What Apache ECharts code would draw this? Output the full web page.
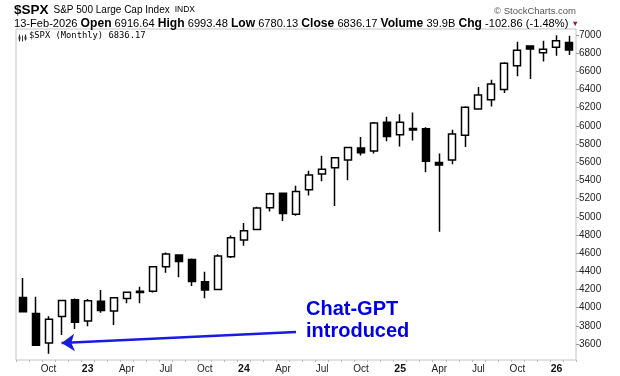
<!DOCTYPE html>
<html>
<head>
<meta charset="utf-8">
<script src="https://cdn.jsdelivr.net/npm/echarts@6/dist/echarts.min.js"></script>
<style>
  html, body { margin: 0; padding: 0; background: #fff; }
  #chart { width: 620px; height: 376px; }
</style>
</head>
<body>
<div id="chart"></div>
<script>
// monthly bars, Aug 2022 .. Feb 2026
var months = ['2022-08', '2022-09', '2022-10', '2022-11', '2022-12',
    '2023-01', '2023-02', '2023-03', '2023-04', '2023-05', '2023-06', '2023-07', '2023-08', '2023-09', '2023-10', '2023-11', '2023-12',
    '2024-01', '2024-02', '2024-03', '2024-04', '2024-05', '2024-06', '2024-07', '2024-08', '2024-09', '2024-10', '2024-11', '2024-12',
    '2025-01', '2025-02', '2025-03', '2025-04', '2025-05', '2025-06', '2025-07', '2025-08', '2025-09', '2025-10', '2025-11', '2025-12',
    '2026-01', '2026-02'];
var opens = [4112, 3937, 3610, 3902, 4087,
    3853, 4070, 3963, 4102, 4167, 4181, 4450, 4579, 4531, 4285, 4201, 4559,
    4745, 4861, 5099, 5258, 5029, 5297, 5471, 5538, 5624, 5758, 5723, 6040,
    5903, 5970, 5968, 5598, 5625, 5897, 6187, 6287, 6401, 6662, 6878, 6806,
    6866, 6917];
var closes = [3955, 3586, 3872, 4080, 3840,
    4077, 3970, 4109, 4169, 4180, 4450, 4589, 4508, 4288, 4194, 4568, 4770,
    4846, 5096, 5254, 5036, 5278, 5460, 5522, 5648, 5762, 5705, 6032, 5882,
    6041, 5955, 5612, 5569, 5912, 6205, 6339, 6460, 6688, 6832, 6845, 6842,
    6936, 6836];
var lows = [3954, 3584, 3492, 3698, 3764,
    3794, 3943, 3809, 4049, 4048, 4166, 4385, 4335, 4239, 4104, 4198, 4547,
    4682, 4854, 5057, 4954, 5011, 5234, 5391, 5119, 5403, 5674, 5697, 5832,
    5773, 5838, 5489, 4835, 5579, 5767, 6178, 6213, 6361, 6545, 6515, 6708,
    6772, 6780];
var highs = [4325, 4119, 3905, 4080, 4101,
    4094, 4195, 4111, 4170, 4231, 4458, 4607, 4585, 4541, 4394, 4588, 4793,
    4931, 5111, 5265, 5264, 5342, 5506, 5670, 5652, 5767, 5878, 6044, 6100,
    6128, 6147, 5986, 5695, 5958, 6215, 6427, 6508, 6700, 6925, 6878, 6938,
    6998, 6993];
var yTicks = [3600, 3800, 4000, 4200, 4400, 4600, 4800, 5000, 5200, 5400, 5600, 5800, 6000, 6200, 6400, 6600, 6800, 7000];
var monthNames = {'04': 'Apr', '07': 'Jul', '10': 'Oct'};

var ohlc = months.map(function (m, i) {
    return [opens[i], closes[i], lows[i], highs[i]];
});

var myChart = echarts.init(document.getElementById('chart'));
var option = {
    animation: false,
    backgroundColor: '#fff',
    textStyle: { fontFamily: 'Liberation Sans, Arial, sans-serif' },
    title: [
        {
            left: 14, top: 1, padding: 0,
            text: '{a|$SPX} {b|S&P 500 Large Cap Index} {c|INDX}',
            textStyle: {
                fontWeight: 'normal',
                rich: {
                    a: { fontSize: 13.5, fontWeight: 'bold', color: '#000' },
                    b: { fontSize: 10, fontWeight: 'normal', color: '#000' },
                    c: { fontSize: 8.5, fontWeight: 'normal', color: '#000' }
                }
            }
        },
        {
            right: 44, top: 6, padding: 0,
            text: '\u00a9 StockCharts.com',
            textStyle: { fontSize: 9.5, fontWeight: 'normal', color: '#555' }
        },
        {
            left: 14, top: 18, padding: 0,
            text: '13-Feb-2026 {k|Open} 6916.64 {k|High} 6993.48 {k|Low} 6780.13 {k|Close} 6836.17 {k|Volume} 39.9B {k|Chg} -102.86 (-1.48%) {r|\u25bc}',
            textStyle: {
                fontSize: 11.1, fontWeight: 'normal', color: '#000',
                rich: {
                    k: { fontSize: 12.1, fontWeight: 'bold', color: '#000' },
                    r: { fontSize: 7.5, color: '#a01040' }
                }
            }
        },
        {
            left: 29, top: 31, padding: 0,
            text: '$SPX (Monthly) 6836.17',
            textStyle: { fontFamily: 'DejaVu Sans Mono', fontSize: 8.8, fontWeight: 'normal', color: '#000' }
        }
    ],
    grid: {
        left: 16, right: 44, top: 29, bottom: 16,
        outerBoundsMode: 'none',
        show: true,
        borderColor: '#c4c4c4',
        borderWidth: 1
    },
    xAxis: {
        type: 'category',
        data: months,
        boundaryGap: true,
        axisLine: { show: false },
        axisTick: { show: true, interval: 0, length: 2, lineStyle: { color: '#bbb' } },
        axisLabel: {
            margin: 4,
            fontSize: 10,
            color: '#222',
            interval: function (i, v) {
                return ['01', '04', '07', '10'].indexOf(v.slice(5)) >= 0;
            },
            formatter: function (v) {
                var mm = v.slice(5);
                if (mm === '01') return '{y|' + v.slice(2, 4) + '}';
                return monthNames[mm];
            },
            rich: { y: { fontSize: 10.5, fontWeight: 'bold', color: '#111' } }
        },
        splitLine: { show: false }
    },
    yAxis: {
        type: 'value',
        position: 'right',
        min: 3424,
        max: 7066,
        axisLine: { show: false },
        axisTick: { show: true, customValues: yTicks, length: 3, lineStyle: { color: '#999' } },
        axisLabel: {
            customValues: yTicks, margin: 3, fontSize: 10, color: '#222',
            formatter: function (v) { return String(v); }
        },
        splitLine: { show: false }
    },
    graphic: [
        {
            type: 'text',
            left: 306, top: 298,
            style: {
                text: 'Chat-GPT\nintroduced',
                font: 'bold 20px "Liberation Sans", Arial, sans-serif',
                lineHeight: 22,
                fill: '#0000e6'
            }
        },
        {
            type: 'group', left: 17, top: 32,
            children: [
                { type: 'line', shape: { x1: 1, y1: 0, x2: 1, y2: 7 }, style: { stroke: '#333', lineWidth: 1 } },
                { type: 'line', shape: { x1: 4, y1: 1, x2: 4, y2: 7 }, style: { stroke: '#333', lineWidth: 1 } },
                { type: 'line', shape: { x1: 7, y1: 0, x2: 7, y2: 6 }, style: { stroke: '#333', lineWidth: 1 } },
                { type: 'rect', shape: { x: 0, y: 2, width: 2, height: 3 }, style: { fill: '#333' } },
                { type: 'rect', shape: { x: 6, y: 2, width: 2, height: 3 }, style: { fill: '#333' } }
            ]
        }
    ],
    series: [
        {
            name: '$SPX',
            type: 'candlestick',
            data: ohlc,
            barWidth: 7.5,
            silent: true,
            itemStyle: {
                color: '#fff',
                color0: '#000',
                borderColor: '#000',
                borderColor0: '#000',
                borderWidth: 1.5
            },
            markLine: {
                silent: true,
                symbol: ['none', 'arrow'],
                symbolSize: 13,
                label: { show: false },
                lineStyle: { color: '#1a1ae6', width: 2.5, type: 'solid' },
                data: [[
                    { coord: ['2024-05', 3732] },
                    { coord: ['2022-11', 3610] }
                ]]
            }
        }
    ]
};
myChart.setOption(option);
</script>
</body>
</html>
